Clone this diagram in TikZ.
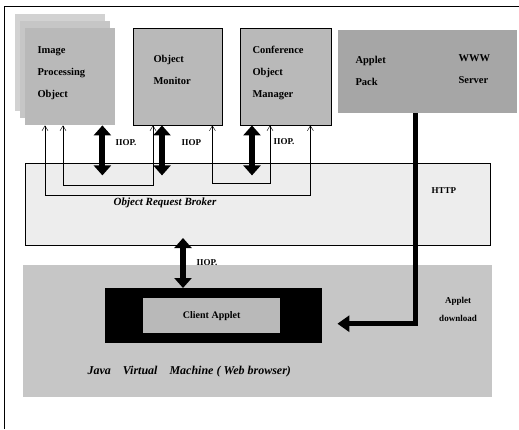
\documentclass[tikz,border=0pt]{standalone}
\usepackage{fontspec}
\setmainfont{Liberation Serif}
\usetikzlibrary{arrows.meta,calc}

\begin{document}
\begin{tikzpicture}[x=1pt,y=-1pt,
  obj/.style={rectangle, fill=gray!55, anchor=north west, inner sep=0pt},
  lbl/.style={font=\bfseries\fontsize{10.5}{22}\selectfont, align=left, anchor=west},
  tag/.style={font=\bfseries\fontsize{9}{11}\selectfont, anchor=west},
  iiop/.style={line width=6pt, {Triangle[length=10pt,width=17pt]}-{Triangle[length=10pt,width=17pt]}},
  link/.style={thin, {Straight Barb[length=5pt,width=6pt]}-{Straight Barb[length=5pt,width=6pt]}}]
\useasboundingbox (0,0) rectangle (519,429);
\draw (4,429) -- (4,6) -- (519,6);

% server objects
\fill[gray!35] (15,14) rectangle (105,111);
\fill[gray!45] (20,21) rectangle (110,118);
\node[obj, minimum width=90pt, minimum height=97pt] (ipo) at (25,28) {};
\node[lbl] (ipotxt) at ($(ipo.west)+(9,-4)$) {Image\\Processing\\Object};
\node[obj, draw, minimum width=89pt, minimum height=97pt] (om) at (133,28) {};
\node[lbl] (omtxt) at ($(om.west)+(17,-7)$) {Object\\Monitor};
\node[obj, draw, minimum width=91pt, minimum height=97pt] (com) at (240,28) {};
\node[lbl] (comtxt) at ($(com.west)+(9,-4)$) {Conference\\Object\\Manager};
\node[obj, fill=gray!70, minimum width=179pt, minimum height=83pt] (web) at (338,30) {};
\node[lbl] (pack) at ($(web.west)+(14,-1)$) {Applet\\Pack};
\node[lbl] (www) at ($(web.west)+(117,-3)$) {WWW\\Server};

% broker
\node[obj, draw, fill=gray!14, minimum width=465pt, minimum height=82pt] (orb) at (25,163) {};
\node[font=\bfseries\itshape\fontsize{11}{13}\selectfont] (orblbl) at ($(orb.north west)+(140,40)$) {Object Request Broker};
\node[tag] (http) at (428,191) {HTTP};

\draw[link] ([xshift=20pt]ipo.south west) -- ++(0,70) -| ([xshift=-21pt]com.south east);
\draw[link] ([xshift=38pt]ipo.south west) -- ++(0,60) -| ([xshift=20pt]om.south west);
\draw[link] ([xshift=-10pt]om.south east) -- ++(0,58) -| ([xshift=30pt]com.south west);

\draw[iiop] ([xshift=-13pt]ipo.south east) -- ++(0,50);
\draw[iiop] ([xshift=29pt]om.south west) -- ++(0,50);
\draw[iiop] ([xshift=12pt]com.south west) -- ++(0,50);
\node[tag] (iiopa) at (112,143) {IIOP.};
\node[tag] (iiopb) at (178,143) {IIOP};
\node[tag] (iiopc) at (270,142) {IIOP.};

% browser
\node[obj, fill=gray!45, minimum width=469pt, minimum height=132pt] (jvm) at (23,265) {};
\node[obj, fill=black, minimum width=217pt, minimum height=55pt] (client) at (105,288) {};
\node[obj, fill=gray!55, minimum width=137pt, minimum height=35pt, font=\bfseries\fontsize{10}{12}\selectfont] (applet) at (143,298) {Client Applet};
\node[font=\bfseries\itshape\fontsize{12}{14}\selectfont, anchor=west] (jvmlbl) at (84,372) {Java\quad Virtual\quad Machine ( Web browser)};
\node[font=\bfseries\fontsize{9}{18}\selectfont, align=center] (dl) at (458,309) {Applet\\download};

\draw[iiop] ($(client.north west)+(78,-50)$) -- ([xshift=78pt]client.north west);
\node[tag] (iiopd) at (193,263) {IIOP.};
\draw[line width=5pt, -{Triangle[length=12pt,width=16pt]}, shorten >=15pt] ([xshift=77pt]web.south west) |- ([yshift=-8pt]client.east);
\end{tikzpicture}
\end{document}
